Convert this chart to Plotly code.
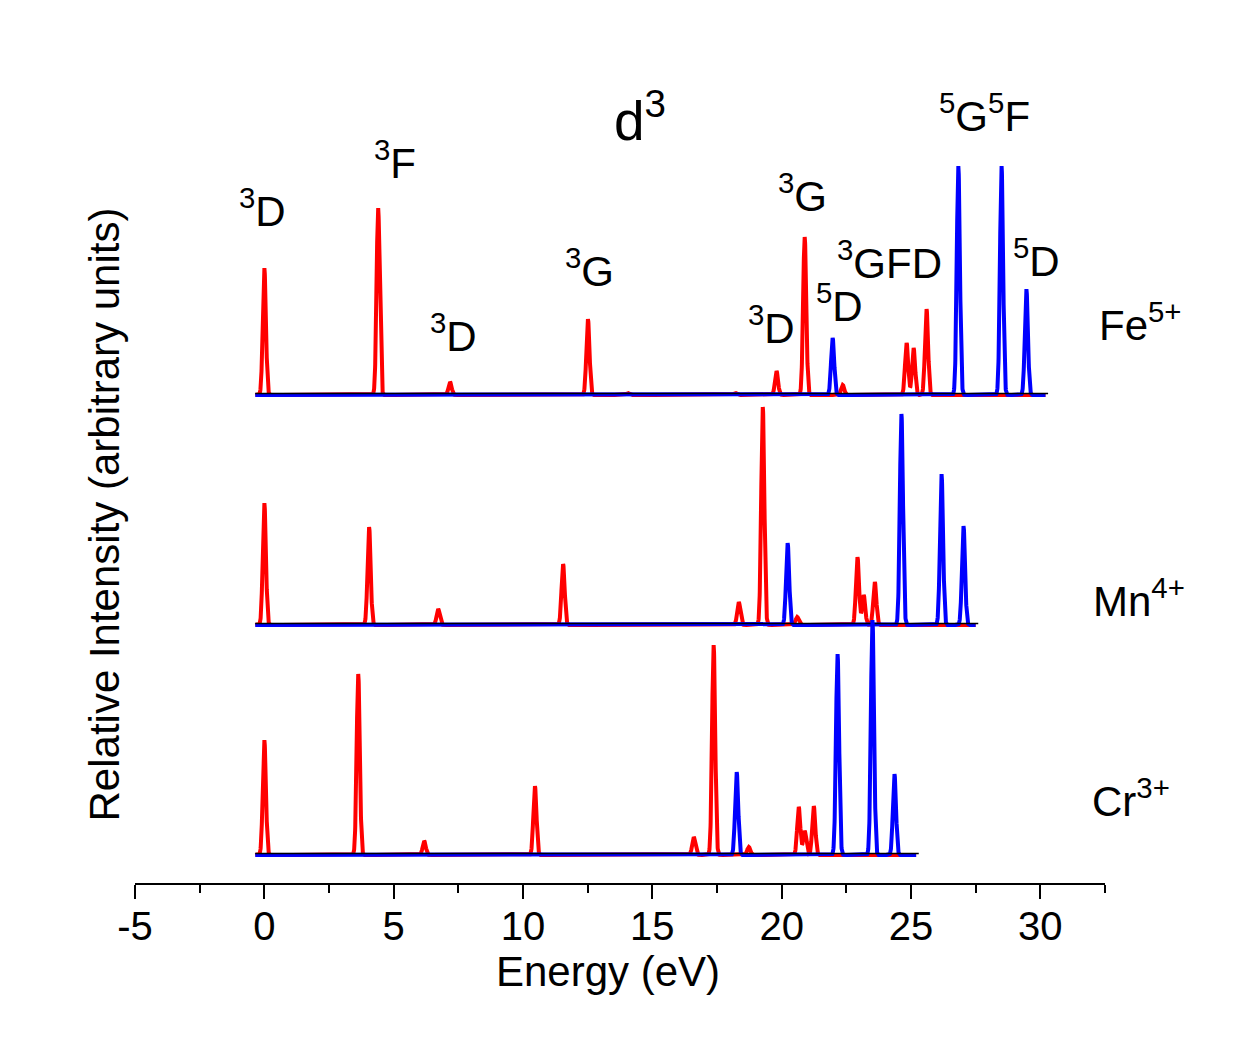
import numpy as np
import plotly.graph_objects as go

# Stick spectra (peak energy in eV, relative height) for the d3 ions.
# Red: triplet terms, blue: quintet terms.
fe_red_e = [0.0, 4.40, 7.18, 12.51, 14.05, 18.2, 19.8, 20.89, 22.36, 24.83, 25.10, 25.60]
fe_red_h = [127, 187, 13, 76, 2, 2, 24, 158, 10, 52, 47, 86]
fe_blue_e = [21.97, 26.83, 28.50, 29.46]
fe_blue_h = [57, 229, 229, 106]

mn_red_e = [0.0, 4.05, 6.72, 11.55, 16.87, 18.34, 19.27, 20.60, 22.93, 23.17, 23.60]
mn_red_h = [122, 98, 16, 61, 1, 23, 218, 8, 68, 30, 43]
mn_blue_e = [20.23, 24.63, 26.18, 27.03]
mn_blue_h = [82, 211, 151, 99]

cr_red_e = [0.0, 3.63, 6.18, 10.46, 16.60, 17.37, 18.73, 20.66, 20.89, 21.24]
cr_red_h = [115, 181, 14, 69, 18, 210, 8, 48, 24, 49]
cr_blue_e = [18.26, 22.16, 23.51, 24.36]
cr_blue_h = [83, 201, 235, 81]

ions = ["Fe<sup>5+</sup>", "Mn<sup>4+</sup>", "Cr<sup>3+</sup>"]
offsets = [460, 230, 0]
x_ends = [30.2, 27.5, 25.2]

term_labels = ["<sup>3</sup>D", "<sup>3</sup>F", "<sup>3</sup>D", "<sup>3</sup>G",
               "<sup>3</sup>D", "<sup>3</sup>G", "<sup>5</sup>D",
               "<sup>3</sup>GFD", "<sup>5</sup>G<sup>5</sup>F", "<sup>5</sup>D"]
term_x = [-0.08, 5.06, 7.30, 12.59, 19.61, 20.81, 22.24, 24.17, 27.84, 29.85]
term_y = [647, 695, 522, 587, 530, 662, 552, 595, 742, 597]

SIGMA = 0.06  # Gaussian line width (eV)


def broaden(x, energies, heights):
    y = np.zeros_like(x)
    for e, h in zip(energies, heights):
        y += h * np.exp(-((x - e) ** 2) / (2 * SIGMA ** 2))
    return y


series = [
    (fe_red_e, fe_red_h, fe_blue_e, fe_blue_h),
    (mn_red_e, mn_red_h, mn_blue_e, mn_blue_h),
    (cr_red_e, cr_red_h, cr_blue_e, cr_blue_h),
]

fig = go.Figure()
for (re, rh, be, bh), off, xe in zip(series, offsets, x_ends):
    x = np.arange(-0.35, xe, 0.004)
    fig.add_trace(go.Scatter(x=x, y=off + broaden(x, re, rh), mode="lines",
                             line=dict(color="#ff0000", width=4), showlegend=False))
    fig.add_trace(go.Scatter(x=x, y=off + broaden(x, be, bh), mode="lines",
                             line=dict(color="#0000ff", width=4), showlegend=False))
    fig.add_trace(go.Scatter(x=[-0.35, xe + 0.1], y=[off + 1.5, off + 1.5], mode="lines",
                             line=dict(color="black", width=1.5), showlegend=False))

font = "Liberation Sans, Arial, sans-serif"
annotations = []
for t, xx, yy in zip(term_labels, term_x, term_y):
    annotations.append(dict(text=t, x=xx, y=yy, xref="x", yref="y", showarrow=False,
                            font=dict(size=42, color="black", family=font)))
annotations.append(dict(text="d<sup>3</sup>", x=14.52, y=738, xref="x", yref="y",
                        showarrow=False, font=dict(size=55, color="black", family=font)))
ion_px = [(1184, 293), (1187, 598), (1172, 827)]
for name, (px, py) in zip(ions, ion_px):
    annotations.append(dict(text=name, x=(px - 135) / 970, y=(883 - py) / 783,
                            xref="paper", yref="paper", showarrow=False,
                            font=dict(size=42, color="black", family=font)))
annotations.append(dict(text="Relative Intensity (arbitrary units)",
                        x=(78 - 135) / 970, y=(883 - 515) / 783,
                        xref="paper", yref="paper", showarrow=False, textangle=-90,
                        font=dict(size=42, color="black", family=font)))
# x-axis title
annotations.append(dict(text="Energy (eV)", x=(608 - 135) / 970, y=(883 - 972) / 783,
                        xref="paper", yref="paper", xanchor="center", yanchor="middle",
                        showarrow=False, font=dict(size=42, color="black", family=font)))

fig.update_layout(
    width=1249, height=1061,
    margin=dict(l=135, r=144, t=100, b=178),
    paper_bgcolor="white", plot_bgcolor="white",
    font=dict(family=font, color="black"),
    annotations=annotations,
    xaxis=dict(range=[-5, 32.5], tickmode="array",
               tickvals=[-5, 0, 5, 10, 15, 20, 25, 30],
               ticktext=["-5", "0", "5", "10", "15", "20", "25", "30"],
               ticks="outside", ticklen=14, tickwidth=2, tickcolor="black",
               ticklabelstandoff=-7,
               minor=dict(tickvals=[-2.5, 2.5, 7.5, 12.5, 17.5, 22.5, 27.5, 32.5],
                          ticks="outside", ticklen=8, tickwidth=2, tickcolor="black"),
               showline=True, linecolor="black", linewidth=2, showgrid=False,
               zeroline=False, tickfont=dict(size=40, family=font)),
    yaxis=dict(range=[-28, 755], visible=False, showgrid=False, zeroline=False),
)

fig.write_html("out.html")
